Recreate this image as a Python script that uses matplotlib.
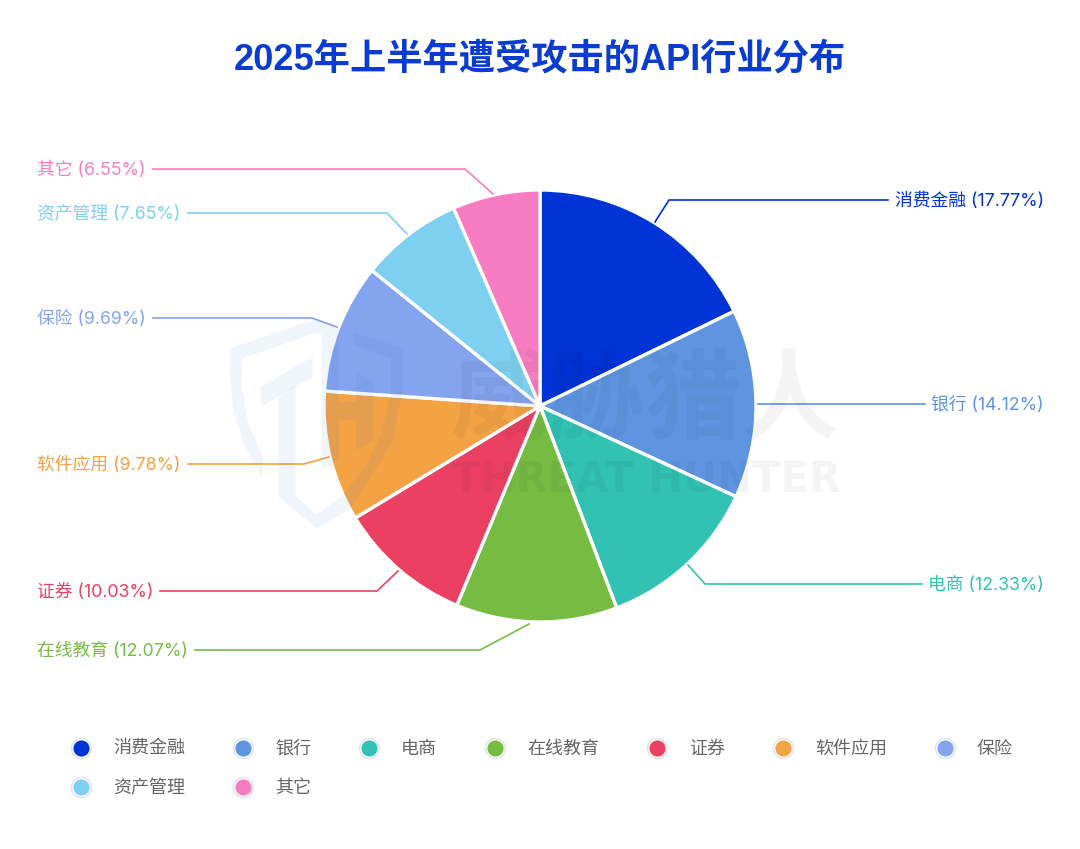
import numpy as np
import matplotlib.pyplot as plt
from matplotlib.patches import Polygon

plt.rcParams['font.family'] = ['Inter', 'Noto Sans CJK SC', 'DejaVu Sans']

W, H = 1080, 849
categories = ['消费金融', '银行', '电商', '在线教育', '证券', '软件应用', '保险', '资产管理', '其它']
values = [17.77, 14.12, 12.33, 12.07, 10.03, 9.78, 9.69, 7.65, 6.55]
colors = ['#0033D6', '#5F95E0', '#31C2B3', '#76BC43', '#EC4062', '#F3A244', '#84A4EF', '#7ED0F0', '#F77CC2']
title = '2025年上半年遭受攻击的API行业分布'

# 布局 (像素, y 从上往下)
cx, cy, radius = 540, 406, 216
line_starts = [(655, 222), (758, 404), (688, 565), (529, 624), (398, 571), (329, 457), (337, 327), (407, 234), (493, 194)]
elbows = [(669, 200), (758, 404), (705, 584), (480, 650), (377, 591), (304, 464), (312, 318), (387, 213), (465, 169)]
line_ends = [888, 925, 922, 195, 160, 188, 153, 188, 153]
legend_x = [81, 243, 369, 495, 657, 783, 945, 81, 243]
legend_y = [748] * 7 + [787] * 2

# 水印盾牌 (zoom 坐标)
shield_parts = [
    [(15, 115), (270, 28), (342, 50), (342, 450), (290, 480), (290, 75), (275, 68), (52, 145), (50, 230),
     (70, 340), (113, 440), (113, 505), (60, 410), (25, 300), (15, 200)],
    [(108, 230), (263, 140), (263, 200), (108, 290)],
    [(388, 68), (535, 115), (535, 230), (500, 400), (430, 510), (370, 600), (275, 655), (160, 560), (160, 265),
     (212, 225), (212, 560), (275, 612), (350, 560), (420, 470), (470, 370), (498, 250), (498, 145), (388, 105)],
    [(393, 185), (445, 215), (445, 390), (393, 422)],
    [(342, 275), (393, 275), (393, 330), (342, 330)],
]


def py(y):
    return H - y


fig = plt.figure(figsize=(W / 100, H / 100), dpi=100)
ax = fig.add_axes([0, 0, 1, 1])

wedges, _ = ax.pie(values, colors=colors, startangle=90, counterclock=False,
                   center=(cx, py(cy)), radius=radius,
                   wedgeprops=dict(edgecolor='white', linewidth=2.4))
ax.set_xlim(0, W)
ax.set_ylim(0, H)
ax.set_aspect('equal')
ax.axis('off')

ax.text(540, py(60), title, color='#0A3CCF', fontsize=26.1, fontweight='bold', ha='center', va='center',
        family=['Liberation Sans', 'Noto Sans CJK SC'])

# 引导线和标签
for i, (name, val) in enumerate(zip(categories, values)):
    sx, sy = line_starts[i]
    ex, ey = elbows[i]
    ax.plot([sx, ex, line_ends[i]], [py(sy), py(ey), py(ey)], color=colors[i], lw=1.2, solid_joinstyle='miter')
    label = f'{name} ({val:.2f}%)'
    if line_ends[i] > cx:
        ax.text(1044, py(ey + 6), label, color=colors[i], fontsize=12.8, ha='right', va='baseline')
    else:
        ax.text(37, py(ey + 6), label, color=colors[i], fontsize=12.8, ha='left', va='baseline')

# 图例
for i, name in enumerate(categories):
    ax.scatter(legend_x[i], py(legend_y[i]), s=205, color='white', edgecolor='#E2E4E8', linewidth=1.1, zorder=3)
    ax.scatter(legend_x[i], py(legend_y[i]), s=135, color=colors[i], linewidth=0, zorder=4)
    ax.text(legend_x[i] + 32, py(legend_y[i] + 6), name, color='#666666', fontsize=13, ha='left', va='baseline')

# 水印
for pts in shield_parts:
    xy = [(225 + x / 3, py(310 + y / 3)) for x, y in pts]
    ax.add_patch(Polygon(xy, closed=True, facecolor='#2F6BD0', alpha=0.07, edgecolor='none', zorder=5))
ax.text(645, py(402), '威胁猎人', color='black', alpha=0.045, fontsize=70, fontweight='bold', ha='center', va='center',
        zorder=6, family=['Noto Sans CJK SC'])
ax.text(647, py(479), 'THREAT HUNTER', color='black', alpha=0.045, fontsize=30, fontweight='bold', ha='center', va='center',
        zorder=6, family=['DejaVu Sans'])

fig.savefig('out.png', dpi=100, facecolor='white')
